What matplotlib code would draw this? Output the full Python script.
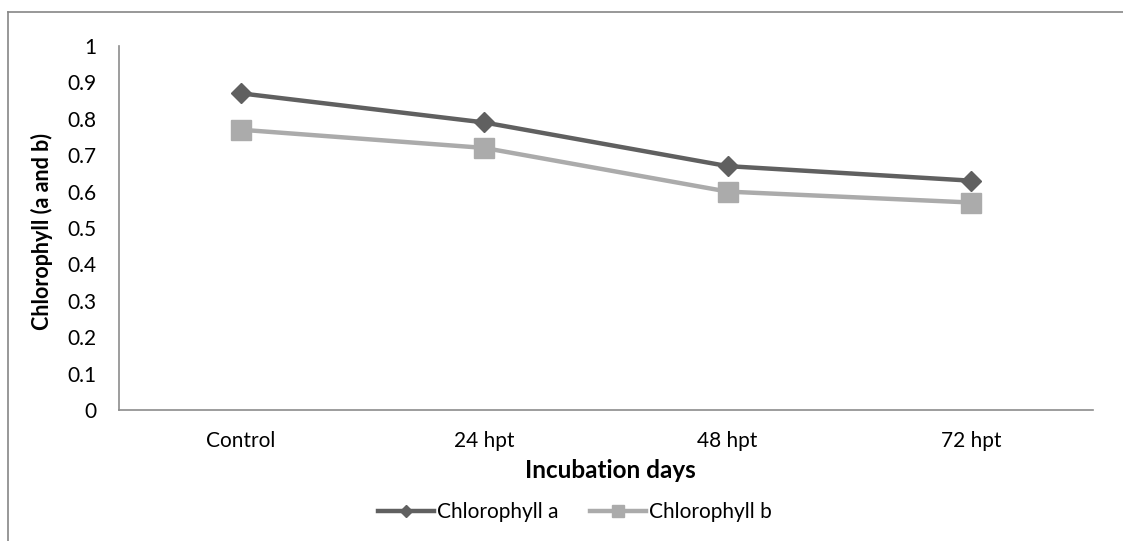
import matplotlib
matplotlib.use("Agg")
from matplotlib import pyplot as plt
from matplotlib.lines import Line2D

plt.rcParams['font.family'] = ['Lato', 'DejaVu Sans']

# 叶绿素含量
days = ["Control", "24 hpt", "48 hpt", "72 hpt"]
chl_a = [0.87, 0.79, 0.67, 0.63]
chl_b = [0.77, 0.72, 0.60, 0.57]
y_ticks = [0, 0.1, 0.2, 0.3, 0.4, 0.5, 0.6, 0.7, 0.8, 0.9, 1]
y_labels = ["0", "0.1", "0.2", "0.3", "0.4", "0.5", "0.6", "0.7", "0.8", "0.9", "1"]

fig = plt.figure(figsize=(11.23, 5.41), dpi=100)
ax = fig.add_axes([0.106, 0.2421, 0.867, 0.6729])

x = list(range(len(days)))
ax.plot(x, chl_a, color="#606060", lw=3.2, marker="D", markersize=10, label="Chlorophyll a")
ax.plot(x, chl_b, color="#ababab", lw=3.2, marker="s", markersize=14, label="Chlorophyll b")

ax.set_xlim(-0.5, 3.5)
ax.set_ylim(0, 1)
ax.set_xticks(x)
ax.set_xticklabels(days, fontsize=15)
ax.set_yticks(y_ticks)
ax.set_yticklabels(y_labels, fontsize=15)
ax.tick_params(axis="y", length=0, pad=16)
ax.tick_params(axis="x", length=0, pad=15)

for s in ["top", "right"]:
    ax.spines[s].set_visible(False)
for s in ["left", "bottom"]:
    ax.spines[s].set_color("#8c8c8c")
    ax.spines[s].set_linewidth(1.2)

ax.set_ylabel("Chlorophyll (a and b)", fontsize=15.5, fontweight="bold")
ax.yaxis.set_label_coords(-0.068, 0.49)
ax.set_xlabel("Incubation days", fontsize=17.5, fontweight="bold")
ax.xaxis.set_label_coords(0.505, -0.135)

ax.legend(loc="center", bbox_to_anchor=(575 / 1123, 1 - 512 / 541), bbox_transform=fig.transFigure,
          ncol=2, frameon=False, fontsize=15, markerscale=0.6, handlelength=2.7,
          handletextpad=0.15, columnspacing=1.5, borderpad=0)

# 外框
fig.add_artist(Line2D([8 / 1123, 1], [1 - 12 / 541, 1 - 12 / 541], color="#868686", lw=1.2))
fig.add_artist(Line2D([8 / 1123, 8 / 1123], [0, 1 - 12 / 541], color="#868686", lw=1.2))

fig.savefig("out.png", dpi=100)
